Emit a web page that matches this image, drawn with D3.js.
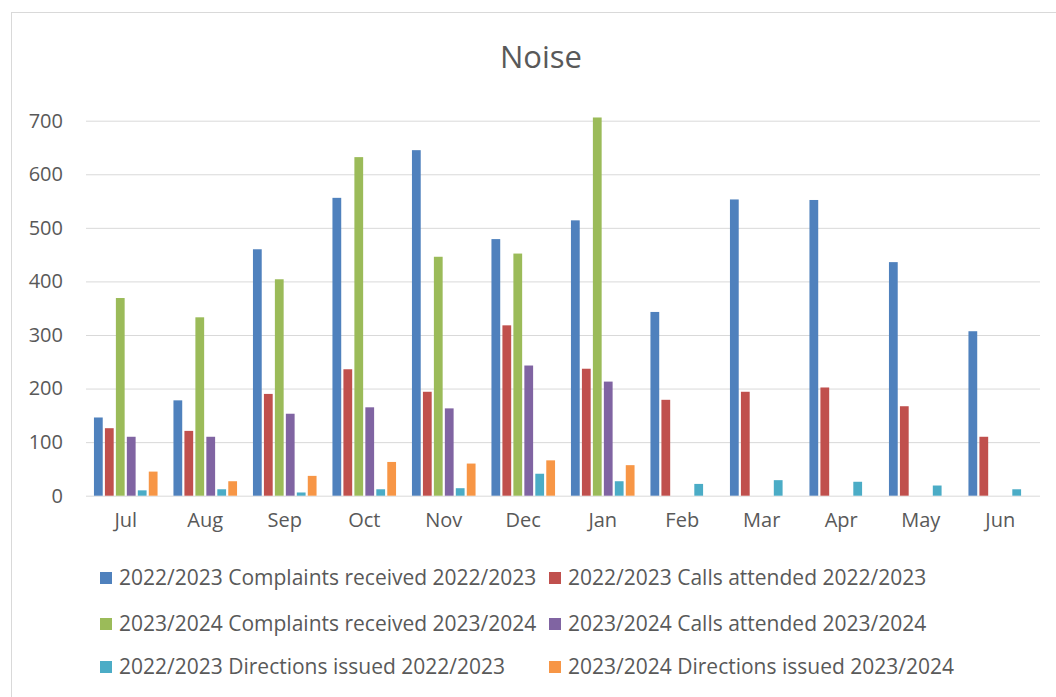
<!DOCTYPE html>
<html>
  <head>
    <meta charset='utf-8'>
    <script src='https://d3js.org/d3.v7.min.js'></script>
    <style>
body {
  margin: 0;
  background: #fff;
  font-family: 'Open Sans', sans-serif;
}
text {
  fill: #595959;
}
.grid line {
  stroke: #d9d9d9;
}
    </style>
  </head>
  <body>
    <div id='chart'></div>
    <script>
        // values, one array per series
        const months = ['Jul', 'Aug', 'Sep', 'Oct', 'Nov', 'Dec', 'Jan', 'Feb', 'Mar', 'Apr', 'May', 'Jun'];
        const complaints2223 = [146, 178, 460, 556, 645, 479, 514, 343, 553, 552, 436, 307];
        const calls2223 = [126, 121, 190, 236, 194, 318, 237, 179, 194, 202, 167, 110];
        const complaints2324 = [369, 333, 404, 632, 446, 452, 706, null, null, null, null, null];
        const calls2324 = [110, 110, 153, 165, 163, 243, 213, null, null, null, null, null];
        const directions2223 = [10, 12, 6, 12, 14, 41, 27, 22, 29, 26, 19, 12];
        const directions2324 = [45, 27, 37, 63, 60, 66, 57, null, null, null, null, null];
        const yTicks = [0, 100, 200, 300, 400, 500, 600, 700];

        const seriesNames = [
          '2022/2023 Complaints received 2022/2023',
          '2022/2023 Calls attended 2022/2023',
          '2023/2024 Complaints received 2023/2024',
          '2023/2024 Calls attended 2023/2024',
          '2022/2023 Directions issued 2022/2023',
          '2023/2024 Directions issued 2023/2024'
        ];
        const seriesValues = [complaints2223, calls2223, complaints2324, calls2324, directions2223, directions2324];
        const colors = ['#4f81bd', '#c0504d', '#9bbb59', '#8064a2', '#4bacc6', '#f79646'];

        const width = 1056, height = 697;
        const plot = { left: 86, right: 1040, top: 120.7, bottom: 495.7 };

        var svg = d3.select('#chart').append('svg')
            .attr('width', width)
            .attr('height', height);

        // chart area border (runs off the right and bottom edges)
        svg.append('rect')
            .attr('x', 11.5)
            .attr('y', 12.5)
            .attr('width', 1100)
            .attr('height', 800)
            .style('fill', 'none')
            .style('stroke', '#d9d9d9');

        svg.append('text')
            .attr('x', 541)
            .attr('y', 68)
            .attr('text-anchor', 'middle')
            .style('font-size', '31px')
            .text('Noise');

        const x0 = d3.scaleBand()
            .domain(months)
            .range([plot.left, plot.right])
            .paddingInner(0.2)
            .paddingOuter(0.1);

        const x1 = d3.scaleBand()
            .domain(d3.range(seriesNames.length))
            .range([0, x0.bandwidth()])
            .paddingInner(0.2);

        const y = d3.scaleLinear()
            .domain([0, 700])
            .range([plot.bottom, plot.top]);

        // gridlines + y labels
        var yAxis = svg.append('g')
            .attr('class', 'grid')
            .attr('transform', 'translate(' + plot.left + ',0)')
            .call(d3.axisLeft(y).tickValues(yTicks).tickSize(-(plot.right - plot.left)).tickPadding(23));
        yAxis.select('.domain').remove();
        yAxis.selectAll('text')
            .style('font-size', '20px')
            .style('font-family', "'Open Sans', sans-serif");

        // bars
        var groups = svg.append('g').selectAll('g')
            .data(months)
            .join('g')
            .attr('transform', d => 'translate(' + x0(d) + ',0)');

        groups.selectAll('rect')
            .data((m, i) => seriesValues.map((s, k) => ({ k: k, v: s[i] })).filter(d => d.v != null))
            .join('rect')
            .attr('x', d => x1(d.k))
            .attr('width', x1.bandwidth())
            .attr('y', d => y(d.v))
            .attr('height', d => y(0) - y(d.v))
            .style('fill', d => colors[d.k]);

        // month labels
        var xAxis = svg.append('g')
            .attr('transform', 'translate(0,' + plot.bottom + ')')
            .call(d3.axisBottom(x0).tickSize(0).tickPadding(17));
        xAxis.select('.domain').remove();
        xAxis.selectAll('text')
            .style('font-size', '20px')
            .style('font-family', "'Open Sans', sans-serif");

        // legend, two columns by three rows
        const legendCols = [100, 549];
        const legendRows = [578, 624, 667];
        var legend = svg.append('g').selectAll('g')
            .data(seriesNames)
            .join('g')
            .attr('transform', (d, i) => 'translate(' + legendCols[i % 2] + ',' + legendRows[Math.floor(i / 2)] + ')');

        legend.append('rect')
            .attr('x', 0)
            .attr('y', -6)
            .attr('width', 12)
            .attr('height', 12)
            .style('fill', (d, i) => colors[i]);

        legend.append('text')
            .attr('x', 19)
            .attr('dy', '0.35em')
            .style('font-size', '21px')
            .text(d => d);
    </script>
  </body>
</html>
